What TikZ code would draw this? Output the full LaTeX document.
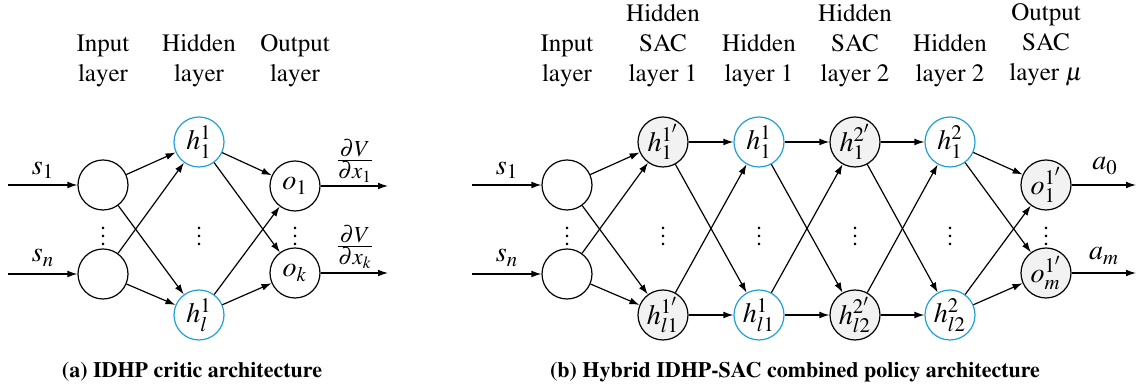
\documentclass[tikz,border=0pt]{standalone}
\usepackage[T1]{fontenc}
\usepackage{mathptmx}
\usetikzlibrary{arrows.meta}
\definecolor{hidblue}{RGB}{30,160,215}
\definecolor{sacgrey}{RGB}{242,242,242}
\newcommand{\pdfrac}[2]{\frac{\textstyle #1}{\textstyle #2}}
\begin{document}
\begin{tikzpicture}[x=0.5pt,y=-0.5pt,
  neuron/.style={circle,draw,line width=0.6pt,minimum size=25pt,inner sep=0pt,
    font=\fontsize{14}{16}\selectfont},
  hid/.style={neuron,draw=hidblue},
  sac/.style={neuron,fill=sacgrey},
  conn/.style={-{Latex[length=5pt,width=3.4pt]},line width=0.6pt},
  hdr/.style={align=center,anchor=south,inner sep=0pt,font=\fontsize{12.5}{15}\selectfont},
  lbl/.style={inner sep=0pt,font=\fontsize{14}{16}\selectfont},
  frac/.style={inner sep=0pt,font=\fontsize{11.5}{14}\selectfont},
  dots/.style={inner sep=0pt,font=\fontsize{12}{14}\selectfont},
  capt/.style={inner sep=0pt,font=\fontsize{11}{13}\selectfont\bfseries}]
\useasboundingbox (0,0) rectangle (1137,389);

% ---------- (a) critic network ----------
\node[hdr] (aHdI) at (103,87) {Input\\layer};
\node[hdr] (aHdH) at (199,87) {Hidden\\layer};
\node[hdr] (aHdO) at (295,87) {Output\\layer};

\node[neuron] (aI1) at (103,185) {};
\node[neuron] (aIn) at (103,274) {};
\node[hid] (aH1) at (199,142) {$h^1_1$};
\node[hid] (aHl) at (199,315) {$h^1_l$};
\node[neuron] (aO1) at (295,186) {$o_1$};
\node[neuron] (aOk) at (295,273) {$o_k$};

\coordinate (aS1) at (8,185);
\coordinate (aSn) at (8,274);
\coordinate (aE1) at (388,186);
\coordinate (aEk) at (388,273);

\node[lbl] (aL1) at (43,170) {$s_1$};
\node[lbl] (aLn) at (43,258) {$s_n$};
\node[frac] (aV1) at (355,161) {$\pdfrac{\partial V}{\partial x_1}$};
\node[frac] (aVk) at (355,247) {$\pdfrac{\partial V}{\partial x_k}$};

\node[dots] (aD1) at (103,230) {$\vdots$};
\node[dots] (aD2) at (199,230) {$\vdots$};
\node[dots] (aD3) at (295,230) {$\vdots$};

\draw[conn] (aS1) -- (aI1);
\draw[conn] (aSn) -- (aIn);
\foreach \a in {aI1,aIn}
  \foreach \b in {aH1,aHl}
    \draw[conn] (\a) -- (\b);
\foreach \a in {aH1,aHl}
  \foreach \b in {aO1,aOk}
    \draw[conn] (\a) -- (\b);
\draw[conn] (aO1) -- (aE1);
\draw[conn] (aOk) -- (aEk);

\node[capt] (aCap) at (192,372) {(a) IDHP critic architecture};

% ---------- (b) hybrid policy network ----------
\node[hdr] (bHd1) at (567,87) {Input\\layer};
\node[hdr] (bHd2) at (663,87) {Hidden\\SAC\\layer 1};
\node[hdr] (bHd3) at (759,87) {Hidden\\layer 1};
\node[hdr] (bHd4) at (855,87) {Hidden\\SAC\\layer 2};
\node[hdr] (bHd5) at (950,87) {Hidden\\layer 2};
\node[hdr] (bHd6) at (1046,87) {Output\\SAC\\layer $\mu$};

\node[neuron] (bI1) at (567,185) {};
\node[neuron] (bIn) at (567,274) {};
\node[sac] (bA1) at (663,142) {$h^{1'}_{1}$};
\node[sac] (bAl) at (663,315) {$h^{1'}_{l1}$};
\node[hid] (bB1) at (759,142) {$h^{1}_{1}$};
\node[hid] (bBl) at (759,315) {$h^{1}_{l1}$};
\node[sac] (bC1) at (855,142) {$h^{2'}_{1}$};
\node[sac] (bCl) at (855,315) {$h^{2'}_{l2}$};
\node[hid] (bD1) at (950,142) {$h^{2}_{1}$};
\node[hid] (bDl) at (950,315) {$h^{2}_{l2}$};
\node[sac] (bO1) at (1046,185) {$o^{1'}_{1}$};
\node[sac] (bOm) at (1046,273) {$o^{1'}_{m}$};

\coordinate (bS1) at (472,185);
\coordinate (bSn) at (472,274);
\coordinate (bE1) at (1136,185);
\coordinate (bEm) at (1136,273);

\node[lbl] (bL1) at (507,170) {$s_1$};
\node[lbl] (bLn) at (507,258) {$s_n$};
\node[lbl] (bA0) at (1105,166) {$a_0$};
\node[lbl] (bAm) at (1104,256) {$a_m$};

\foreach \x [count=\i] in {567,663,759,855,950,1046}
  \node[dots] (bDot\i) at (\x,230) {$\vdots$};

\draw[conn] (bS1) -- (bI1);
\draw[conn] (bSn) -- (bIn);
\foreach \a in {bI1,bIn}
  \foreach \b in {bA1,bAl}
    \draw[conn] (\a) -- (\b);
\foreach \a in {bA1,bAl}
  \foreach \b in {bB1,bBl}
    \draw[conn] (\a) -- (\b);
\foreach \a in {bB1,bBl}
  \foreach \b in {bC1,bCl}
    \draw[conn] (\a) -- (\b);
\foreach \a in {bC1,bCl}
  \foreach \b in {bD1,bDl}
    \draw[conn] (\a) -- (\b);
\foreach \a in {bD1,bDl}
  \foreach \b in {bO1,bOm}
    \draw[conn] (\a) -- (\b);
\draw[conn] (bO1) -- (bE1);
\draw[conn] (bOm) -- (bEm);

\node[capt] (bCap) at (795,372) {(b) Hybrid IDHP-SAC combined policy architecture};
\end{tikzpicture}
\end{document}
